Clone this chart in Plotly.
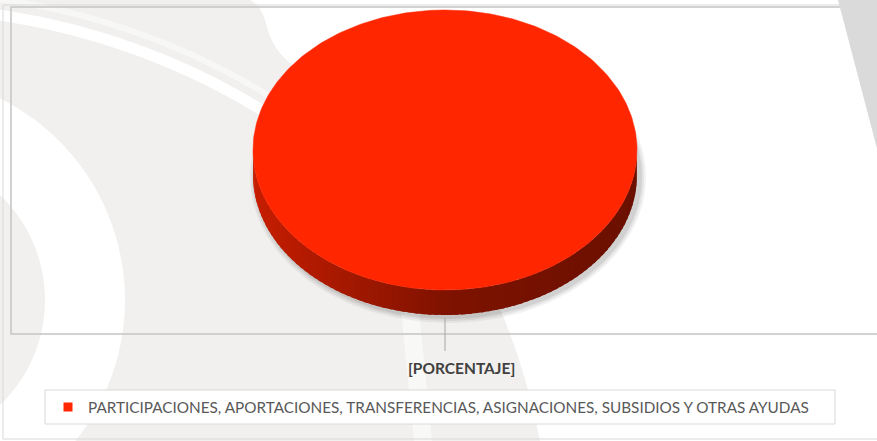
import numpy as np
import plotly.graph_objects as go

# ---------------- data ----------------
CATEGORIES = ["PARTICIPACIONES, APORTACIONES, TRANSFERENCIAS, ASIGNACIONES, SUBSIDIOS Y OTRAS AYUDAS"]
VALUES = [100]
DATA_LABELS = ["[PORCENTAJE]"]
COLORS = ["#FF2600"]

# ---------------- layout constants (pixels) ----------------
W, H = 877, 441
CX, CY, RX, RY, DEPTH = 445, 150, 192, 140, 25
START = -np.pi / 2  # 12 o'clock, clockwise


def hex_rgb(h):
    h = h.lstrip("#")
    return tuple(int(h[i:i + 2], 16) for i in (0, 2, 4))


def shade(rgb, c):
    # c = cos(angle): -1 left (lighter) .. +1 right (darker)
    if c < 0:
        f = 0.5 + (-c) * 0.28
    else:
        f = 0.5 - c * 0.08
    return "rgb(%d,%d,%d)" % tuple(int(v * f) for v in rgb)


fig = go.Figure()

total = float(sum(VALUES))
bounds = []
acc = 0.0
for v in VALUES:
    t0 = START + 2 * np.pi * acc / total
    acc += v
    t1 = START + 2 * np.pi * acc / total
    bounds.append((t0, t1))

# soft shadow
ts = np.linspace(0, 2 * np.pi, 240)
for k, a in enumerate([0.05, 0.06, 0.08]):
    off = 6 - 2 * k
    fig.add_trace(go.Scatter(
        x=CX + 3 + (RX + off) * np.cos(ts), y=CY + DEPTH + 2 + (RY + off) * np.sin(ts),
        mode="lines", fill="toself", fillcolor="rgba(0,0,0,%.2f)" % a,
        line=dict(width=0), hoverinfo="skip", showlegend=False))

# side walls (visible lower half)
STEP = np.radians(2)
for (t0, t1), col in zip(bounds, COLORS):
    rgb = hex_rgb(col)
    for k in range(-1, 3):
        a0 = max(t0, 2 * np.pi * k)
        a1 = min(t1, np.pi + 2 * np.pi * k)
        if a1 <= a0:
            continue
        n = max(1, int((a1 - a0) / STEP))
        edges = np.linspace(a0, a1, n + 1)
        for i, (e0, e1) in enumerate(zip(edges[:-1], edges[1:])):
            e1x = min(a1, e1 + STEP * 0.6)
            tt = np.linspace(e0, e1x, 4)
            xs = np.concatenate([CX + RX * np.cos(tt), (CX + RX * np.cos(tt))[::-1]])
            ys = np.concatenate([CY + RY * np.sin(tt), (CY + RY * np.sin(tt) + DEPTH)[::-1]])
            c = shade(rgb, np.cos((e0 + e1) / 2))
            fig.add_trace(go.Scatter(
                x=xs, y=ys, mode="lines", fill="toself", fillcolor=c,
                line=dict(width=0), hoverinfo="skip", showlegend=False))

# top faces
for (t0, t1), col, name in zip(bounds, COLORS, CATEGORIES):
    tt = np.linspace(t0, t1, 300)
    xs = CX + RX * np.cos(tt)
    ys = CY + RY * np.sin(tt)
    if t1 - t0 < 2 * np.pi - 1e-9:
        xs = np.concatenate([[CX], xs, [CX]])
        ys = np.concatenate([[CY], ys, [CY]])
    fig.add_trace(go.Scatter(
        x=xs, y=ys, mode="lines", fill="toself", fillcolor=col,
        line=dict(width=0.5, color=col), name=name, hoverinfo="name", showlegend=False))

# data labels with leader lines
for (t0, t1), lab in zip(bounds, DATA_LABELS):
    m = (t0 + t1) / 2
    x0 = CX + RX * np.cos(m)
    y0 = CY + RY * np.sin(m) + DEPTH * max(0, np.sin(m)) + 3
    x1 = CX + (RX + 36) * np.cos(m)
    y1 = CY + (RY + 36) * np.sin(m) + DEPTH
    fig.add_trace(go.Scatter(x=[x0, x1], y=[y0, y1], mode="lines",
                             line=dict(color="#a6a6a6", width=1),
                             hoverinfo="skip", showlegend=False))
    fig.add_annotation(x=x1 + 16, y=y1 + 17, text="<b>%s</b>" % lab, showarrow=False,
                       font=dict(family="Lato, Liberation Sans, sans-serif", size=15.5, color="#404040"),
                       xanchor="center", yanchor="middle")

# legend entries
for name, col in zip(CATEGORIES, COLORS):
    fig.add_trace(go.Scatter(x=[None], y=[None], mode="markers", name=name,
                             marker=dict(symbol="square", size=9, color=col)))

# ---------------- decorative background ----------------
shapes = []
# gray watermark region (left)
shapes.append(dict(type="path", xref="x", yref="y", layer="below",
                   path="M 0 0 L 250 0 Q 262 5 268 30 Q 275 55 300 70 L 430 190 Q 510 290 540 441 L 0 441 Z",
                   fillcolor="#f1f0ee", line=dict(width=0)))


def ring_path(cx, cy, r_out, r_in, n=80):
    a = np.linspace(-np.pi / 2, np.pi / 2, n)
    pts = ["%s %.1f %.1f" % ("M" if i == 0 else "L", cx + r_out * np.cos(t), cy + r_out * np.sin(t)) for i, t in enumerate(a)]
    pts += ["L %.1f %.1f" % (cx + r_in * np.cos(t), cy + r_in * np.sin(t)) for t in a[::-1]]
    return " ".join(pts) + " Z"


# white ring (left)
shapes.append(dict(type="path", xref="x", yref="y", layer="below",
                   path=ring_path(-100, 300, 225, 145), fillcolor="#ffffff", line=dict(width=0)))
# thin white arc band (top-left)
a = np.linspace(np.arctan2(15 - 700, 0 + 100) - 0.05, np.arctan2(120 - 700, 280 + 100), 60)
arc = " ".join("%s %.1f %.1f" % ("M" if i == 0 else "L", -100 + 692 * np.cos(t), 700 + 692 * np.sin(t)) for i, t in enumerate(a))
shapes.append(dict(type="path", xref="x", yref="y", layer="below", path=arc,
                   line=dict(color="#ffffff", width=11)))
shapes.append(dict(type="path", xref="x", yref="y", layer="below",
                   path=" ".join("%s %.1f %.1f" % ("M" if i == 0 else "L", -100 + 708 * np.cos(t), 700 + 708 * np.sin(t)) for i, t in enumerate(a)),
                   line=dict(color="#f7f7f6", width=6)))
# white diagonal streak near label
shapes.append(dict(type="path", xref="x", yref="y", layer="below",
                   path="M 400 300 L 418 300 L 432 441 L 414 441 Z", fillcolor="#f8f8f7", line=dict(width=0)))
# chart borders
shapes.append(dict(type="rect", xref="x", yref="y", layer="below", x0=3, y0=5, x1=890, y1=439,
                   line=dict(color="#d9d9d9", width=1), fillcolor="rgba(0,0,0,0)"))
shapes.append(dict(type="rect", xref="x", yref="y", layer="below", x0=11, y0=7, x1=890, y1=334,
                   line=dict(color="#c4c4c4", width=1.5), fillcolor="rgba(0,0,0,0)"))
# textured gray corner (top-right)
shapes.append(dict(type="path", xref="x", yref="y", layer="below",
                   path="M 838 0 L 880 0 L 880 160 Z", fillcolor="#dadada", line=dict(width=0)))
# legend box
shapes.append(dict(type="rect", xref="x", yref="y", layer="below", x0=45, y0=390, x1=835, y1=424,
                   line=dict(color="#d9d9d9", width=1), fillcolor="#ffffff"))

fig.update_layout(
    width=W, height=H,
    margin=dict(l=0, r=0, t=0, b=0),
    paper_bgcolor="#ffffff", plot_bgcolor="rgba(0,0,0,0)",
    xaxis=dict(range=[0, W], visible=False, fixedrange=True),
    yaxis=dict(range=[H, 0], visible=False, fixedrange=True),
    shapes=shapes,
    showlegend=True,
    legend=dict(x=48 / W, y=1 - 407 / H, xanchor="left", yanchor="middle",
                orientation="h", bgcolor="rgba(0,0,0,0)", borderwidth=0,
                font=dict(family="Lato, Liberation Sans, sans-serif", size=15.3, color="#595959"),
                itemwidth=30),
)

fig.write_html("out.html", config={"displayModeBar": False},
               post_script="document.body.style.margin='0';document.body.style.overflow='hidden';")
